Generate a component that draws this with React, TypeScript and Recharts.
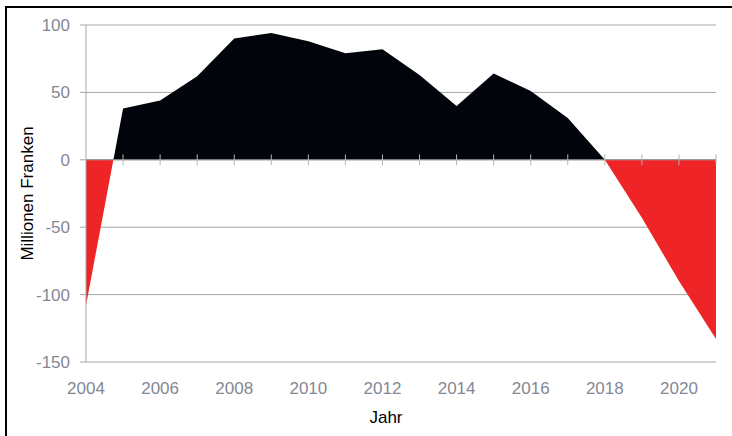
import React from "react";
import {
  AreaChart,
  Area,
  XAxis,
  YAxis,
  CartesianGrid,
  ReferenceLine,
} from "recharts";

// Jahre und Saldo (Millionen Franken)
const years = [
  2004, 2005, 2006, 2007, 2008, 2009, 2010, 2011, 2012,
  2013, 2014, 2015, 2016, 2017, 2018, 2019, 2020, 2021,
];
const saldo = [
  -108, 38, 44, 62, 90, 94, 88, 79, 82,
  63, 40, 64, 51, 31, 0, -43, -90, -133,
];
const xTicks = [2004, 2006, 2008, 2010, 2012, 2014, 2016, 2018, 2020];
const yTicks = [-150, -100, -50, 0, 50, 100];

const data = years.map((year, i) => ({ year, value: saldo[i] }));

// where the zero line falls inside the area's bounding box
const maxVal = Math.max(...saldo);
const minVal = Math.min(...saldo);
const zeroOffset = maxVal / (maxVal - minVal);

const GRID = "#a6a6a6";
const TICK_TEXT = "#838895";
const FONT = "'Liberation Sans', Arial, sans-serif";

export default function App() {
  return (
    <div
      style={{
        position: "absolute",
        left: 0,
        top: 0,
        width: 732,
        height: 436,
        background: "#fff",
        overflow: "hidden",
        fontFamily: FONT,
      }}
    >
      {/* frame, only left and top edges are visible */}
      <div
        style={{
          position: "absolute",
          left: 5,
          top: 6,
          right: -10,
          bottom: -10,
          borderLeft: "2px solid #000",
          borderTop: "2px solid #000",
        }}
      />
      <div style={{ position: "absolute", left: 0, top: 0 }}>
        <AreaChart
          width={732}
          height={436}
          data={data}
          margin={{ top: 25, right: 16, left: 0, bottom: 0 }}
        >
          <defs>
            <linearGradient id="splitFill" x1="0" y1="0" x2="0" y2="1">
              <stop offset={0} stopColor="#02040b" />
              <stop offset={zeroOffset} stopColor="#02040b" />
              <stop offset={zeroOffset} stopColor="#ee2426" />
              <stop offset={1} stopColor="#ee2426" />
            </linearGradient>
          </defs>
          <CartesianGrid vertical={false} stroke={GRID} strokeWidth={1} />
          <XAxis
            dataKey="year"
            type="number"
            domain={[2004, 2021]}
            ticks={xTicks}
            axisLine={false}
            tickLine={false}
            tickSize={6}
            tickMargin={14}
            height={74}
            tick={{ fill: TICK_TEXT, fontSize: 17, fontFamily: FONT }}
            label={{
              content: ({ viewBox }: any) => (
                <text
                  x={viewBox.x + viewBox.width / 2 - 15}
                  y={viewBox.y + 61}
                  textAnchor="middle"
                  fill="#000"
                  fontSize={17}
                  fontFamily={FONT}
                >
                  Jahr
                </text>
              ),
            }}
          />
          <YAxis
            type="number"
            domain={[-150, 100]}
            ticks={yTicks}
            width={86}
            axisLine={{ stroke: GRID }}
            tickLine={{ stroke: GRID }}
            tickSize={6}
            tickMargin={10}
            tick={{ fill: TICK_TEXT, fontSize: 17, fontFamily: FONT }}
            label={{
              content: ({ viewBox }: any) => {
                const cx = viewBox.x + 27;
                const cy = viewBox.y + viewBox.height / 2;
                return (
                  <text
                    x={cx}
                    y={cy}
                    transform={`rotate(-90, ${cx}, ${cy})`}
                    textAnchor="middle"
                    dominantBaseline="central"
                    fill="#000"
                    fontSize={17}
                    fontFamily={FONT}
                  >
                    Millionen Franken
                  </text>
                );
              },
            }}
          />
          <Area
            type="linear"
            dataKey="value"
            baseValue={0}
            stroke="none"
            fill="url(#splitFill)"
            fillOpacity={1}
            isAnimationActive={false}
            dot={false}
            activeDot={false}
          />
          <ReferenceLine y={0} stroke="#9a9a9a" strokeWidth={1} />
          {years.slice(1).map((year) => (
            <ReferenceLine
              key={year}
              segment={[
                { x: year, y: -4 },
                { x: year, y: 4 },
              ]}
              stroke="#b4b4b4"
              strokeWidth={1}
            />
          ))}
        </AreaChart>
      </div>
    </div>
  );
}
